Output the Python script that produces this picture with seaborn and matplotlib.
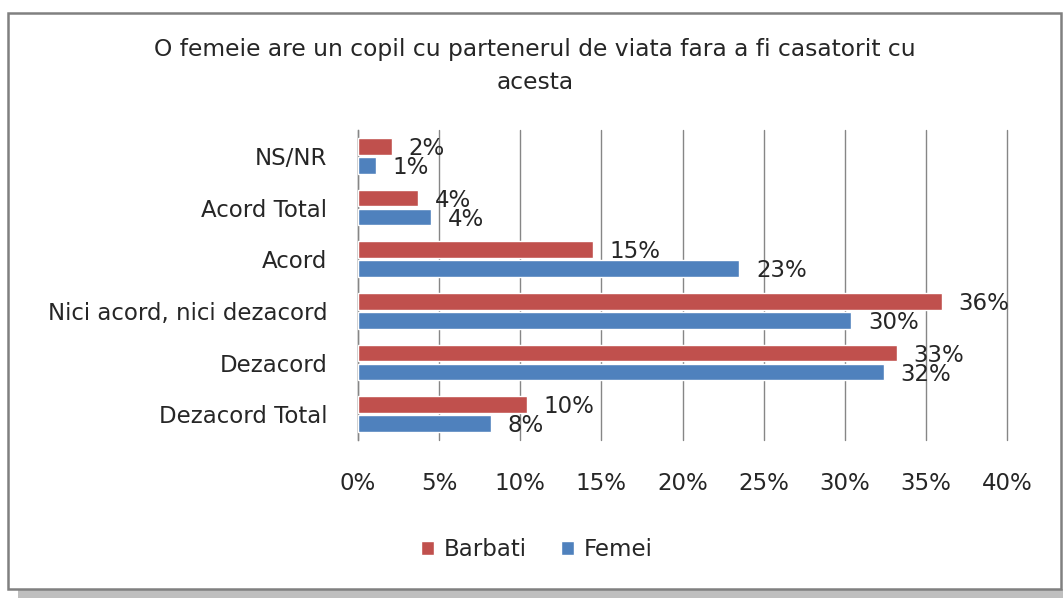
import matplotlib
matplotlib.use("Agg")
import matplotlib.pyplot as plt
import seaborn as sns
import pandas as pd
from matplotlib.patches import Rectangle
from matplotlib.ticker import FuncFormatter

categories = ["NS/NR", "Acord Total", "Acord", "Nici acord, nici dezacord", "Dezacord", "Dezacord Total"]
series_names = ["Barbati", "Femei"]
barbati = [2.07, 3.7, 14.5, 36.0, 33.2, 10.4]
femei = [1.1, 4.5, 23.5, 30.4, 32.4, 8.2]
barbati_labels = ["2%", "4%", "15%", "36%", "33%", "10%"]
femei_labels = ["1%", "4%", "23%", "30%", "32%", "8%"]
title = "O femeie are un copil cu partenerul de viata fara a fi casatorit cu\nacesta"
x_ticks = [0, 5, 10, 15, 20, 25, 30, 35, 40]

df = pd.DataFrame({
    "categorie": categories * 2,
    "serie": [series_names[0]] * len(categories) + [series_names[1]] * len(categories),
    "valoare": barbati + femei,
})

sns.set_theme(style="white")
plt.rcParams["font.family"] = ["DejaVu Sans"]
TXT = "#262626"
FS = 16.5

fig = plt.figure(figsize=(10.63, 5.98), dpi=100)
# outer frame & shadow
fig.patches.append(Rectangle((18 / 1063, 0), 1 - 18 / 1063, 9 / 598, transform=fig.transFigure,
                             facecolor="#bfbfbf", edgecolor="none", zorder=-3))
fig.patches.append(Rectangle((8 / 1063, 9 / 598), 1053 / 1063, 576 / 598, transform=fig.transFigure,
                             facecolor="white", edgecolor="#808080", linewidth=1.8, zorder=-2))

ax = fig.add_axes([358 / 1063, 1 - 440 / 598, (1007 - 358) / 1063, (440 - 130) / 598])
ax.set_facecolor("none")
palette = {"Barbati": "#C0504D", "Femei": "#4F81BD"}
sns.barplot(data=df, y="categorie", x="valoare", hue="serie", order=categories,
            hue_order=series_names, palette=palette, orient="h", width=0.74, gap=0.12,
            saturation=1, ax=ax, legend=True, zorder=3)

ax.set_xlim(0, 40)
ax.set_ylim(5.5, -0.5)
ax.set_xticks(x_ticks)
ax.xaxis.set_major_formatter(FuncFormatter(lambda v, p: f"{v:.0f}%"))
ax.grid(axis="x", color="#868686", linewidth=1.0, zorder=0)
ax.grid(axis="y", visible=False)
ax.set_axisbelow(True)
for gl in ax.get_xgridlines():
    gl.set_clip_on(False)
for s in ["top", "right", "bottom"]:
    ax.spines[s].set_visible(False)
ax.spines["left"].set_color("#868686")
ax.spines["left"].set_linewidth(1.0)
ax.tick_params(axis="y", length=0, pad=22, labelsize=FS, labelcolor=TXT)
ax.tick_params(axis="x", length=0, pad=23, labelsize=FS, labelcolor=TXT)
ax.set_xlabel("")
ax.set_ylabel("")

for container, labels in zip(ax.containers, [barbati_labels, femei_labels]):
    for bar, lab in zip(container, labels):
        ax.annotate(lab, xy=(bar.get_width(), bar.get_y() + bar.get_height() / 2),
                    xytext=(12, -1.5), textcoords="offset points", ha="left", va="center",
                    fontsize=FS, color=TXT, zorder=5)

leg = ax.legend(loc="center", bbox_to_anchor=(537 / 1063, 1 - 550 / 598),
                bbox_transform=fig.transFigure, ncol=2, frameon=False, fontsize=FS,
                handlelength=0.55, handleheight=0.55, handletextpad=0.45, columnspacing=1.5)
for t in leg.get_texts():
    t.set_color(TXT)

fig.text(535 / 1063, 1 - 66 / 598, title, ha="center", va="center", fontsize=16.8,
         color=TXT, linespacing=1.55)

fig.savefig("out.png", dpi=100)
